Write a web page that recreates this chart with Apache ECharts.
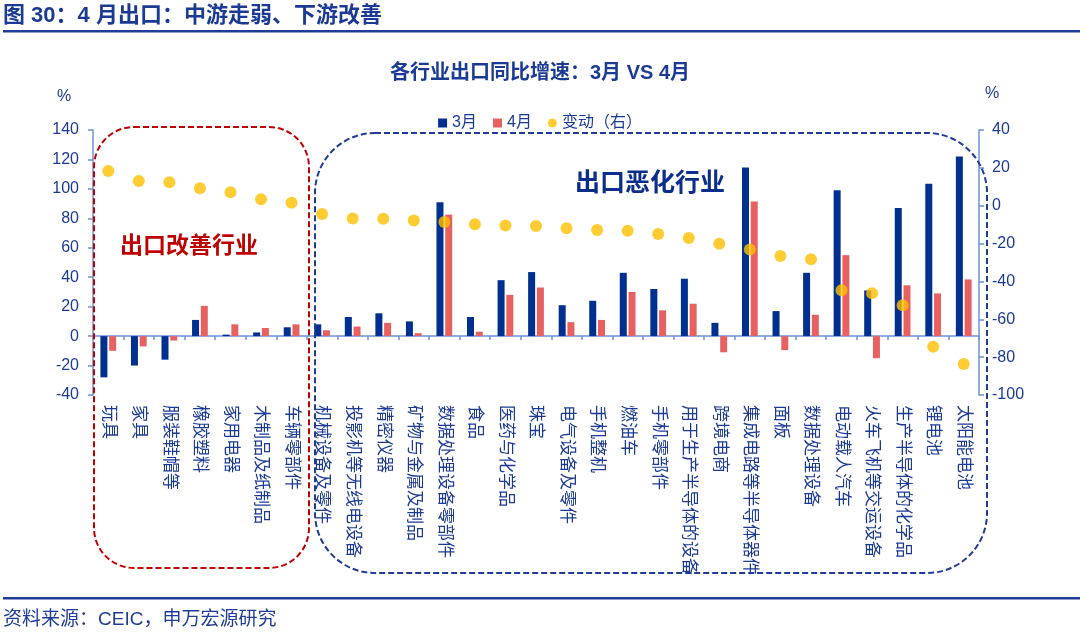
<!DOCTYPE html>
<html>
<head>
<meta charset="utf-8">
<script src="https://cdn.jsdelivr.net/npm/echarts@6/dist/echarts.min.js"></script>
<style>
html,body{margin:0;padding:0;background:#fff;}
#c{width:1080px;height:634px;}
</style>
</head>
<body>
<div id="c"></div>
<script>
const categories = ['玩具','家具','服装鞋帽等','橡胶塑料','家用电器','木制品及纸制品','车辆零部件','机械设备及零件','投影机等无线电设备','精密仪器','矿物与金属及制品','数据处理设备零部件','食品','医药与化学品','珠宝','电气设备及零件','手机整机','燃油车','手机零部件','用于生产半导体的设备','跨境电商','集成电路等半导体器件','面板','数据处理设备','电动载人汽车','火车飞机等交运设备','生产半导体的化学品','锂电池','太阳能电池'];
const march = [-28, -20, -16, 11, 1, 2.5, 6, 8, 13, 15.5, 10, 91, 13, 38, 43.5, 21, 24, 43, 32, 39, 9, 114.5, 17, 43, 99, 31, 87, 103.5, 122];
const april = [-10, -7, -3, 20.5, 8, 5.5, 8, 4, 6.5, 9, 2, 82.5, 3, 28, 33, 9.5, 11, 30, 17.5, 22, -11, 91.5, -9.5, 14.5, 55, -15, 34.5, 29, 38.5];
const change = [18.3, 13, 12.4, 9.2, 7.1, 3.4, 1.6, -4.4, -6.7, -6.9, -7.8, -8.6, -9.8, -10.4, -10.7, -11.9, -12.8, -13.2, -14.9, -17.1, -20.1, -23.1, -26.6, -28.3, -44.7, -46.3, -52.6, -74.5, -83.6];
const seriesNames = ['3月','4月','变动（右）'];

const FONT = '"Liberation Sans", "Noto Sans CJK SC", sans-serif';
const NAVY = '#1B3A94';
const AXIS = '#6C93DA';

const chart = echarts.init(document.getElementById('c'), null, {renderer:'canvas'});
chart.setOption({
  animation: false,
  backgroundColor: '#fff',
  textStyle: {fontFamily: FONT},
  title: {
    text: '各行业出口同比增速：3月 VS 4月',
    left: 'center', top: 58,
    textStyle: {fontSize: 20, fontWeight: 'bold', color: NAVY, fontFamily: FONT}
  },
  legend: {
    top: 110, left: 'center',
    itemWidth: 9, itemHeight: 9, itemGap: 16,
    textStyle: {fontSize: 16, color: NAVY, fontFamily: FONT},
    data: [
      {name: seriesNames[0], icon: 'rect'},
      {name: seriesNames[1], icon: 'rect'},
      {name: seriesNames[2], icon: 'circle'}
    ]
  },
  grid: {left: 93, right: 101, top: 130, bottom: 239, containLabel: false},
  xAxis: [
    {
      type: 'category', data: categories, position: 'bottom',
      axisLine: {show: true, onZero: true, onZeroAxisIndex: 0, lineStyle: {color: AXIS, width: 1.5}},
      axisTick: {show: true, interval: 0, alignWithLabel: false, length: 4, lineStyle: {color: AXIS, width: 1.5}},
      axisLabel: {show: false}
    },
    {
      type: 'category', data: categories, position: 'bottom',
      axisLine: {show: false, onZero: false},
      axisTick: {show: false},
      axisLabel: {show: true, interval: 0, rotate: -90, margin: 10, fontSize: 17, color: NAVY, fontFamily: FONT}
    }
  ],
  yAxis: [
    {
      type: 'value', min: -40, max: 140, interval: 20,
      axisLine: {show: true, lineStyle: {color: AXIS, width: 1.5}},
      axisTick: {show: true, length: 5, lineStyle: {color: AXIS, width: 1.5}},
      axisLabel: {fontSize: 16, color: NAVY, margin: 14, fontFamily: FONT},
      splitLine: {show: false}
    },
    {
      type: 'value', min: -100, max: 40, interval: 20,
      axisLine: {show: true, lineStyle: {color: AXIS, width: 1.5}},
      axisTick: {show: true, length: 5, lineStyle: {color: AXIS, width: 1.5}},
      axisLabel: {fontSize: 16, color: NAVY, margin: 13, fontFamily: FONT},
      splitLine: {show: false}
    }
  ],
  series: [
    {name: seriesNames[0], type: 'bar', xAxisIndex: 0, yAxisIndex: 0, data: march, barWidth: 7, barGap: '25%', itemStyle: {color: '#00308F'}},
    {name: seriesNames[1], type: 'bar', xAxisIndex: 0, yAxisIndex: 0, data: april, barWidth: 7, barGap: '25%', itemStyle: {color: '#E86161'}},
    {name: seriesNames[2], type: 'scatter', xAxisIndex: 0, yAxisIndex: 1, data: change, symbolSize: 12, itemStyle: {color: '#FFC000'}, z: 5}
  ],
  graphic: [
    {type: 'text', left: 3, top: 5, style: {text: '图 30：4 月出口：中游走弱、下游改善', font: 'bold 22px ' + FONT, fill: NAVY}},
    {type: 'rect', shape: {x: 3, y: 30, width: 1077, height: 2.5}, style: {fill: '#1F3C96'}},
    {type: 'rect', shape: {x: 3, y: 597, width: 1077, height: 2.5}, style: {fill: '#1F3C96'}},
    {type: 'text', left: 3, top: 610, style: {text: '资料来源：CEIC，申万宏源研究', font: '19px ' + FONT, fill: '#1F3C96'}},
    {type: 'text', left: 57, top: 89, style: {text: '%', font: '16px ' + FONT, fill: NAVY}},
    {type: 'text', left: 985, top: 86, style: {text: '%', font: '16px ' + FONT, fill: NAVY}},
    {type: 'rect', shape: {x: 94, y: 127, width: 215, height: 441, r: 40}, style: {fill: null, stroke: '#C00000', lineWidth: 2, lineDash: [6, 3]}, z: 10},
    {type: 'rect', shape: {x: 315, y: 133, width: 672, height: 440, r: 60}, style: {fill: null, stroke: '#1F3C96', lineWidth: 2, lineDash: [6, 3]}, z: 10},
    {type: 'text', left: 120, top: 235, style: {text: '出口改善行业', font: 'bold 23px ' + FONT, fill: '#C00000'}, z: 10},
    {type: 'text', left: 575, top: 172, style: {text: '出口恶化行业', font: 'bold 25px ' + FONT, fill: '#0B2E8C'}, z: 10}
  ]
});
</script>
</body>
</html>
